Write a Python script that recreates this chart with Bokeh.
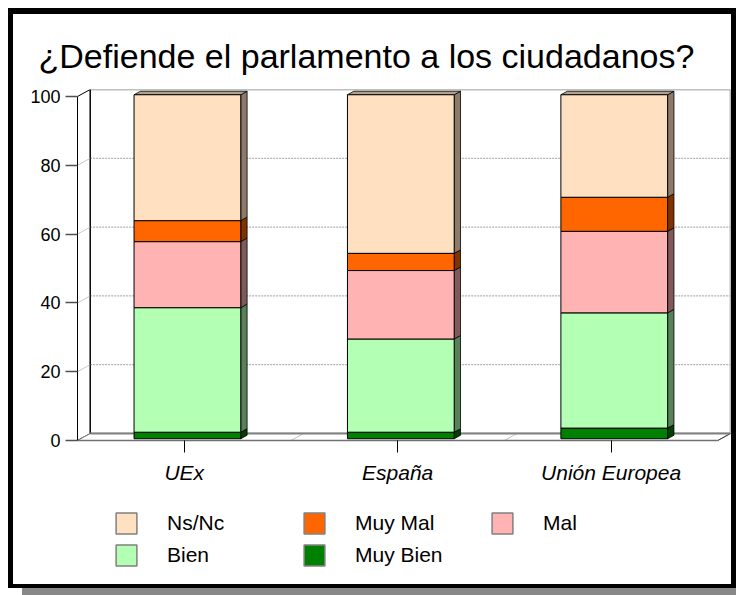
from bokeh.plotting import figure
from bokeh.models import Range1d, FixedTicker, Legend, LegendItem
from bokeh.embed import file_html
from bokeh.resources import INLINE

# ---------------- data ----------------
categories = ["UEx", "España", "Unión Europea"]
series = ["Muy Bien", "Bien", "Mal", "Muy Mal", "Ns/Nc"]  # bottom -> top
muy_bien = [1.9, 1.9, 3.1]
bien = [36.2, 27.1, 33.5]
mal = [19.2, 19.9, 23.7]
muy_mal = [6.1, 5.0, 9.9]
ns_nc = [36.6, 46.1, 29.8]
y_ticks = [0, 20, 40, 60, 80, 100]
values = {"Muy Bien": muy_bien, "Bien": bien, "Mal": mal, "Muy Mal": muy_mal, "Ns/Nc": ns_nc}
legend_columns = [["Ns/Nc", "Bien"], ["Muy Mal", "Muy Bien"], ["Mal"]]

front_colors = {"Muy Bien": "#008000", "Bien": "#B3FFB3", "Mal": "#FFB3B3",
                "Muy Mal": "#FF6600", "Ns/Nc": "#FFE0C0"}
side_colors = {"Muy Bien": "#004000", "Bien": "#5A805A", "Mal": "#805A5A",
               "Muy Mal": "#803300", "Ns/Nc": "#8C7B6B"}
FONT = "Liberation Sans"

# ---------------- geometry (canvas px) ----------------
W, H = 728, 580                 # host size incl. CSS border (canvas is W x H, clipped by border)
CW, CH = 718, 570               # visible content size
FL, FT, FW = 64, 75, 653
MB = H - CH                     # hidden strip at the bottom
FH = H - FT - MB                # frame runs down to the visible bottom (legend lives inside)
Y0_PX = 351                     # frame top -> value 0 baseline
DEPTH_X, DEPTH_Y = 12.7, 7.0    # px depth of the 3D box
px_cat = (FW - DEPTH_X) / 3.0
px_unit = (Y0_PX - DEPTH_Y) / 100.0
ddx = DEPTH_X / px_cat
ddy = DEPTH_Y / px_unit
xmax = 3 + ddx
ymax = 100 + ddy
ymin = -(FH - Y0_PX) / px_unit

p = figure(width=W, height=H, output_backend="svg", toolbar_location=None,
           x_range=Range1d(0, xmax), y_range=Range1d(ymin, ymax),
           min_border_left=FL, min_border_top=FT,
           min_border_right=W - FL - FW, min_border_bottom=MB,
           background_fill_color="white", border_fill_color="white")
p.outline_line_color = None
p.grid.visible = False
p.styles = {"margin-left": "8px", "margin-top": "8px",
            "border-style": "solid", "border-color": "black",
            "border-width": "6px 5px 4px 5px",
            "box-shadow": "14px 7px 0px 0px #888888"}

# title
p.title.text = "¿Defiende el parlamento a los ciudadanos?"
p.title.text_font = FONT
p.title.text_font_size = "34px"
p.title.text_font_style = "normal"
p.title.text_color = "black"
p.title.align = "left"
p.title.offset = -39
p.title.standoff = 29

# ---------------- 3D box walls ----------------
p.patch([ddx, xmax, xmax, ddx], [ddy, ddy, ymax, ymax], fill_color="white",
        line_color="#808080", line_width=1.5)
p.patch([0, 0, ddx, ddx], [0, 100, ymax, ddy], fill_color="white", line_color="black", line_width=1)
p.patch([0, 3, xmax, ddx], [0, 0, ddy, ddy], fill_color="white", line_color="#808080", line_width=1)
p.segment(x0=[3], y0=[0], x1=[xmax], y1=[ddy], line_color="#404040", line_width=1)
p.segment(x0=[1, 2], y0=[0, 0], x1=[1 + ddx, 2 + ddx], y1=[ddy, ddy], line_color="#C0C0C0", line_width=1)
gv = [v for v in y_ticks if 0 < v < 100]
p.segment(x0=[ddx] * len(gv), y0=[v + ddy for v in gv], x1=[xmax] * len(gv), y1=[v + ddy for v in gv],
          line_color="#A0A0A0", line_width=1, line_dash="2 1")
p.segment(x0=[0] * len(gv), y0=gv, x1=[ddx] * len(gv), y1=[v + ddy for v in gv],
          line_color="#C8C8C8", line_width=1)
p.segment(x0=[ddx], y0=[ddy], x1=[ddx], y1=[ymax], line_color="black", line_width=1)
p.segment(x0=[ddx], y0=[ddy], x1=[xmax], y1=[ddy], line_color="#808080", line_width=2)

# ---------------- bars ----------------
fx, fy = 0.25 * ddx, 0.25 * ddy
bx, by = 0.5 * ddx, 0.5 * ddy
n = len(categories)
cum = [0.0] * n
for s in series:
    vals = values[s]
    lefts = [i + 0.25 + fx for i in range(n)]
    rights = [i + 0.75 + fx for i in range(n)]
    bottoms = [cum[i] + fy for i in range(n)]
    tops = [cum[i] + vals[i] + fy for i in range(n)]
    p.patches(xs=[[rights[i], rights[i] + bx, rights[i] + bx, rights[i]] for i in range(n)],
              ys=[[bottoms[i], bottoms[i] + by, tops[i] + by, tops[i]] for i in range(n)],
              fill_color=side_colors[s], line_color="black", line_width=0.8)
    if s == series[-1]:
        p.patches(xs=[[lefts[i], rights[i], rights[i] + bx, lefts[i] + bx] for i in range(n)],
                  ys=[[tops[i], tops[i], tops[i] + by, tops[i] + by] for i in range(n)],
                  fill_color="#B0A090", line_color="black", line_width=0.8)
    p.quad(left=lefts, right=rights, bottom=bottoms, top=tops,
           fill_color=front_colors[s], line_color="black", line_width=1)
    cum = [cum[i] + vals[i] for i in range(n)]

# ---------------- axes ----------------
ya = p.yaxis[0]
ya.ticker = FixedTicker(ticks=y_ticks)
ya.bounds = (0, 100)
ya.major_tick_out = 12
ya.major_tick_in = 0
ya.minor_tick_out = 0
ya.minor_tick_in = 0
ya.axis_line_color = "black"
ya.major_tick_line_color = "#505050"
ya.major_tick_line_width = 1.5
ya.major_label_standoff = 5
ya.major_label_text_font = FONT
ya.major_label_text_font_size = "18px"
ya.major_label_text_color = "black"

xa = p.xaxis[0]
xa.fixed_location = 0
xa.ticker = FixedTicker(ticks=[i + 0.5 for i in range(n)])
xa.major_label_overrides = {i + 0.5: c for i, c in enumerate(categories)}
xa.bounds = (0, 3)
xa.major_tick_out = 12
xa.major_tick_in = 0
xa.minor_tick_out = 0
xa.minor_tick_in = 0
xa.axis_line_color = "#707070"
xa.axis_line_width = 1.5
xa.major_tick_line_color = "black"
xa.major_label_standoff = 8
xa.major_label_text_font = FONT
xa.major_label_text_font_size = "21px"
xa.major_label_text_font_style = "italic"
xa.major_label_text_color = "black"

# ---------------- legend ----------------
NAN = float("nan")
dummy = {}
for s in series:
    dummy[s] = p.quad(left=[NAN], right=[NAN], top=[NAN], bottom=[NAN], fill_color=front_colors[s],
                      line_color="#808080", line_width=1.5)

LEG_TOP = 496          # canvas y of the legend's first row (top of swatch)
LEG_X0, LEG_DX = 36, 188
GLYPH, GAP = 26, 6
for ci, labels in enumerate(legend_columns):
    h = len(labels) * GLYPH + (len(labels) - 1) * GAP
    lg = Legend(items=[LegendItem(label=l, renderers=[dummy[l]]) for l in labels],
                location=(LEG_X0 + ci * LEG_DX, FH - (LEG_TOP - FT) - h),
                orientation="vertical", glyph_width=GLYPH, glyph_height=GLYPH, label_standoff=28,
                spacing=GAP, padding=0, margin=0, border_line_alpha=0, background_fill_alpha=0,
                label_text_font=FONT, label_text_font_size="21px", label_text_color="black")
    p.add_layout(lg, "center")

open("out.html", "w").write(file_html(p, INLINE))
